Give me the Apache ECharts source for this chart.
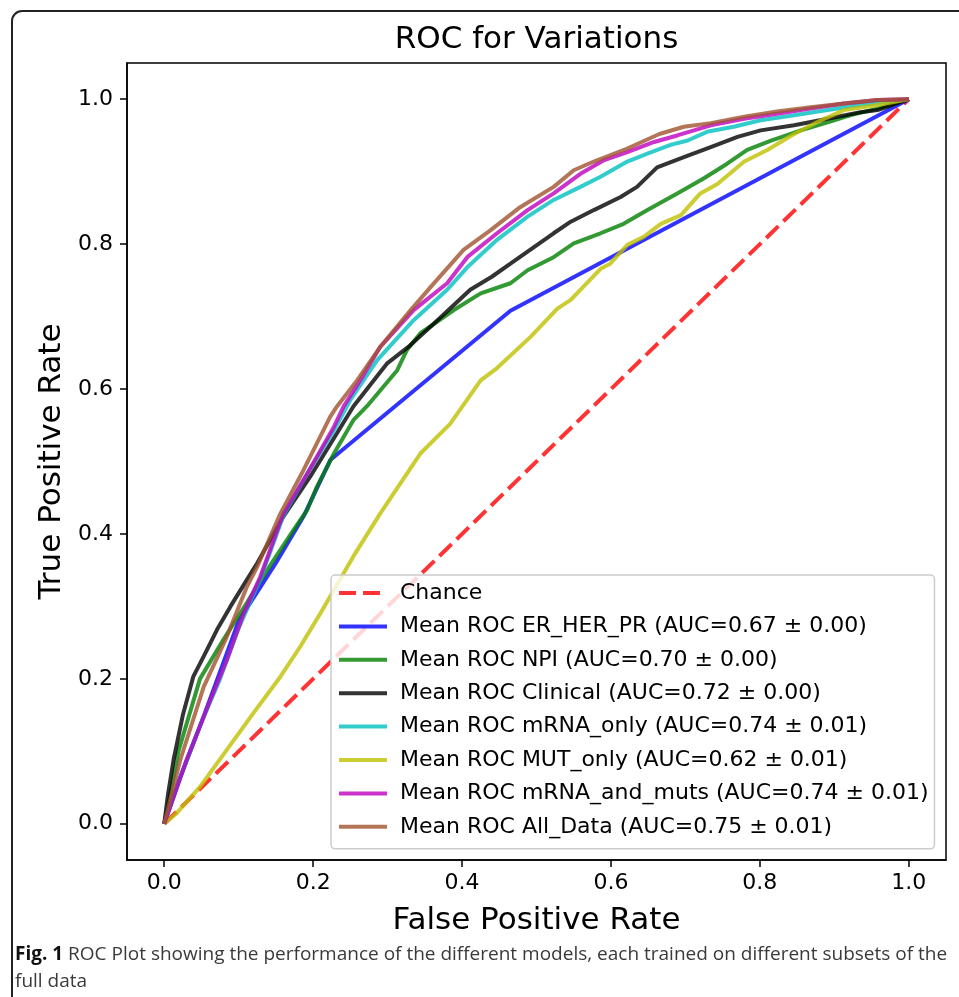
<!DOCTYPE html>
<html>
<head>
<meta charset="utf-8">
<script src="https://cdn.jsdelivr.net/npm/echarts@6/dist/echarts.min.js"></script>
<style>
html,body{margin:0;padding:0;background:#fff;}
#chart{width:959px;height:997px;}
</style>
</head>
<body>
<div id="chart"></div>
<script>
// ---- data ----
const tickValues = [0, 0.2, 0.4, 0.6, 0.8, 1.0];
const seriesNames = [
  'Chance',
  'Mean ROC ER_HER_PR (AUC=0.67 \u00b1 0.00)',
  'Mean ROC NPI (AUC=0.70 \u00b1 0.00)',
  'Mean ROC Clinical (AUC=0.72 \u00b1 0.00)',
  'Mean ROC mRNA_only (AUC=0.74 \u00b1 0.01)',
  'Mean ROC MUT_only (AUC=0.62 \u00b1 0.01)',
  'Mean ROC mRNA_and_muts (AUC=0.74 \u00b1 0.01)',
  'Mean ROC All_Data (AUC=0.75 \u00b1 0.01)'
];
const rocChance = [[0,0],[1,1]];
const rocErHerPr = [[0,0],[0.02,0.06],[0.05,0.14],[0.1,0.28],[0.15,0.36],[0.187,0.424],[0.223,0.502],[0.465,0.708],[1,1]];
const rocNpi = [[0,0],[0.01,0.05],[0.019,0.1],[0.048,0.2],[0.08,0.255],[0.111,0.305],[0.129,0.335],[0.147,0.364],[0.174,0.406],[0.192,0.433],[0.205,0.465],[0.228,0.511],[0.254,0.557],[0.272,0.576],[0.3,0.61],[0.313,0.626],[0.326,0.654],[0.344,0.677],[0.389,0.709],[0.425,0.732],[0.465,0.746],[0.488,0.764],[0.523,0.782],[0.55,0.801],[0.586,0.815],[0.617,0.828],[0.649,0.847],[0.689,0.87],[0.725,0.891],[0.756,0.911],[0.783,0.93],[0.815,0.943],[0.855,0.957],[0.891,0.968],[0.922,0.978],[0.958,0.987],[1,1]];
const rocClinical = [[0,0],[0.005,0.04],[0.0125,0.088],[0.025,0.15],[0.039,0.203],[0.053,0.231],[0.071,0.268],[0.089,0.3],[0.107,0.33],[0.125,0.36],[0.16,0.424],[0.196,0.479],[0.232,0.539],[0.254,0.576],[0.28,0.61],[0.299,0.635],[0.33,0.66],[0.362,0.69],[0.411,0.737],[0.44,0.755],[0.465,0.773],[0.523,0.815],[0.546,0.831],[0.577,0.847],[0.613,0.865],[0.635,0.879],[0.662,0.906],[0.698,0.92],[0.734,0.934],[0.77,0.948],[0.801,0.957],[0.846,0.964],[0.891,0.973],[0.935,0.982],[0.958,0.985],[1,1]];
const rocMrnaOnly = [[0,0],[0.02,0.06],[0.05,0.14],[0.075,0.2],[0.1,0.27],[0.13,0.34],[0.16,0.425],[0.192,0.483],[0.228,0.543],[0.25,0.585],[0.286,0.64],[0.335,0.695],[0.38,0.737],[0.407,0.768],[0.447,0.806],[0.488,0.838],[0.523,0.861],[0.559,0.879],[0.586,0.893],[0.622,0.914],[0.649,0.925],[0.68,0.937],[0.703,0.943],[0.729,0.955],[0.765,0.962],[0.801,0.971],[0.846,0.978],[0.891,0.985],[0.935,0.992],[1,1]];
const rocMutOnly = [[0,0],[0.017,0.015],[0.048,0.051],[0.084,0.102],[0.12,0.153],[0.156,0.203],[0.183,0.245],[0.21,0.291],[0.254,0.369],[0.29,0.428],[0.344,0.511],[0.384,0.552],[0.425,0.612],[0.447,0.629],[0.492,0.672],[0.528,0.711],[0.546,0.723],[0.586,0.766],[0.599,0.773],[0.622,0.799],[0.644,0.81],[0.667,0.828],[0.694,0.84],[0.72,0.87],[0.743,0.883],[0.779,0.914],[0.81,0.93],[0.846,0.952],[0.882,0.971],[0.913,0.985],[0.958,0.992],[1,1]];
const rocMrnaAndMuts = [[0,0],[0.03,0.088],[0.062,0.171],[0.084,0.226],[0.107,0.291],[0.129,0.341],[0.16,0.428],[0.192,0.483],[0.228,0.548],[0.241,0.576],[0.265,0.615],[0.29,0.658],[0.335,0.709],[0.38,0.746],[0.407,0.782],[0.447,0.815],[0.488,0.847],[0.523,0.87],[0.559,0.897],[0.591,0.916],[0.622,0.927],[0.658,0.941],[0.689,0.95],[0.734,0.964],[0.779,0.973],[0.823,0.98],[0.868,0.987],[0.913,0.994],[0.958,0.999],[1,1]];
const rocAllData = [[0,0],[0.0215,0.088],[0.053,0.189],[0.084,0.258],[0.111,0.327],[0.125,0.355],[0.156,0.428],[0.187,0.488],[0.223,0.562],[0.232,0.576],[0.259,0.612],[0.29,0.658],[0.331,0.709],[0.358,0.741],[0.402,0.792],[0.438,0.819],[0.478,0.851],[0.523,0.879],[0.55,0.902],[0.577,0.914],[0.622,0.932],[0.665,0.952],[0.698,0.962],[0.734,0.967],[0.779,0.976],[0.823,0.983],[0.868,0.989],[0.913,0.994],[0.958,0.999],[1,1]];

const seriesData = [rocChance, rocErHerPr, rocNpi, rocClinical, rocMrnaOnly, rocMutOnly, rocMrnaAndMuts, rocAllData];
const seriesColors = [
  'rgba(255,0,0,0.8)', 'rgba(0,0,255,0.8)', 'rgba(0,128,0,0.8)', 'rgba(0,0,0,0.8)',
  'rgba(0,191,191,0.8)', 'rgba(191,191,0,0.8)', 'rgba(191,0,191,0.8)', 'rgba(160,82,45,0.8)'
];

const FONT = 'DejaVu Sans';
const chart = echarts.init(document.getElementById('chart'), null, {renderer: 'canvas'});

const series = seriesData.map((d, i) => ({
  name: seriesNames[i],
  type: 'line',
  data: d,
  symbol: 'none',
  showSymbol: false,
  smooth: false,
  animation: false,
  lineStyle: {
    color: seriesColors[i],
    width: 4,
    type: i === 0 ? [17, 7] : 'solid',
    cap: 'butt'
  },
  itemStyle: {color: seriesColors[i]},
  emphasis: {disabled: true}
}));

const option = {
  animation: false,
  backgroundColor: '#fff',
  grid: {
    left: 127, right: 13, top: 63, bottom: 137,
    show: true, borderColor: '#000', borderWidth: 1.5, backgroundColor: 'transparent'
  },
  xAxis: {
    type: 'value', min: -0.05, max: 1.05,
    name: 'False Positive Rate', nameLocation: 'middle', nameGap: 45,
    nameTextStyle: {fontFamily: FONT, fontSize: 31, color: '#000'},
    axisLine: {show: true, onZero: false, lineStyle: {color: '#000', width: 1.5}},
    axisTick: {show: true, customValues: tickValues, length: 7, lineStyle: {color: '#000', width: 1.5}},
    axisLabel: {customValues: tickValues, margin: 12, fontFamily: FONT, fontSize: 22, color: '#000',
      formatter: v => v.toFixed(1)},
    splitLine: {show: false}
  },
  yAxis: {
    type: 'value', min: -0.05, max: 1.05,
    name: 'True Positive Rate', nameLocation: 'middle', nameGap: 60, nameRotate: 90,
    nameTextStyle: {fontFamily: FONT, fontSize: 31, color: '#000'},
    axisLine: {show: true, onZero: false, lineStyle: {color: '#000', width: 1.5}},
    axisTick: {show: true, customValues: tickValues, length: 7, lineStyle: {color: '#000', width: 1.5}},
    axisLabel: {customValues: tickValues, margin: 14, fontFamily: FONT, fontSize: 22, color: '#000',
      formatter: v => v.toFixed(1)},
    splitLine: {show: false}
  },
  legend: {
    orient: 'vertical',
    left: 331, top: 575,
    padding: [7, 6, 11, 6],
    itemWidth: 48, itemHeight: 2, itemGap: 11.4,
    backgroundColor: 'rgba(255,255,255,0.8)',
    borderColor: '#cccccc', borderWidth: 1.5, borderRadius: 4,
    selectedMode: false,
    itemStyle: {opacity: 0, borderWidth: 0},
    lineStyle: {width: 4},
    textStyle: {fontFamily: FONT, fontSize: 22, lineHeight: 22, color: '#000', padding: [0, 0, 0, 8]},
    data: seriesNames
  },
  graphic: [
    {type: 'rect', silent: true, z: 100,
      shape: {x: 12, y: 11, width: 970, height: 1010, r: 10},
      style: {fill: 'none', stroke: '#222', lineWidth: 2}},
    {type: 'text', silent: true, z: 100, x: 536.5, y: 40,
      style: {text: 'ROC for Variations', font: '31px "DejaVu Sans"', fill: '#000',
        textAlign: 'center', textVerticalAlign: 'middle'}},
    {type: 'text', silent: true, z: 100, x: 15, y: 941,
      style: {
        text: '{b|Fig. 1} ROC Plot showing the performance of the different models, each trained on different subsets of the\nfull data',
        font: '19px "Open Sans"', fill: '#3a3a3a', lineHeight: 27,
        rich: {b: {fontFamily: 'Open Sans', fontWeight: 'bold', fontSize: 19, fill: '#111', lineHeight: 27}}
      }}
  ],
  series: series
};
chart.setOption(option);
</script>
</body>
</html>
